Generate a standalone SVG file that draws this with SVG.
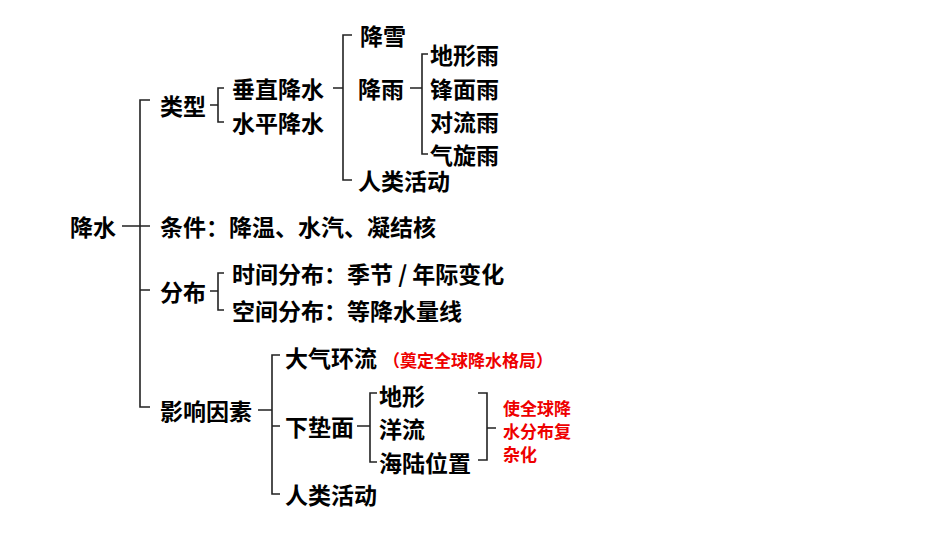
<svg xmlns="http://www.w3.org/2000/svg" width="950" height="535" viewBox="0 0 950 535">
<style>
text{font-family:"Noto Sans CJK SC","Noto Sans",sans-serif;font-weight:bold;font-size:23px;fill:#000;dominant-baseline:central}
.r{fill:#e00;font-size:17px}
.c path{fill:none;stroke:#222;stroke-width:1.6}
</style>
<rect width="950" height="535" fill="#fff"/>
<g class="c" id="connectors">
<path d="M122 226H140M150 100H140V407H150M140 226H150M140 290H150"/>
<path d="M210 105H218M224 88H218V122H224"/>
<path d="M333 88H343M352 35H343V180H352"/>
<path d="M410 88H422M428 54H422V154H428"/>
<path d="M210 291H218M224 273H218V310H224"/>
<path d="M258 410H272M280 355H272V494H280M272 426H280"/>
<path d="M357 426H370M377 393H370V462H377"/>
<path d="M478 393H487V460H478M487 428H496"/>
</g>
<g id="n-root"><text x="70" y="226">降水</text></g>
<g id="n-type"><text x="160" y="105">类型</text></g>
<g id="n-vert"><text x="232" y="88">垂直降水</text></g>
<g id="n-horz"><text x="232" y="122">水平降水</text></g>
<g id="n-snow"><text x="360" y="35">降雪</text></g>
<g id="n-rain"><text x="358" y="88">降雨</text></g>
<g id="n-human1"><text x="358" y="180">人类活动</text></g>
<g id="n-r1"><text x="430" y="54">地形雨</text></g>
<g id="n-r2"><text x="430" y="88">锋面雨</text></g>
<g id="n-r3"><text x="430" y="121">对流雨</text></g>
<g id="n-r4"><text x="430" y="154">气旋雨</text></g>
<g id="n-cond"><text x="160" y="226">条件：降温、水汽、凝结核</text></g>
<g id="n-dist"><text x="160" y="291">分布</text></g>
<g id="n-time"><text x="232" y="273">时间分布：季节 / 年际变化</text></g>
<g id="n-space"><text x="232" y="310">空间分布：等降水量线</text></g>
<g id="n-factor"><text x="160" y="410">影响因素</text></g>
<g id="n-atm"><text x="285" y="357">大气环流</text><text class="r" x="383" y="359">（奠定全球降水格局）</text></g>
<g id="n-surf"><text x="285" y="426">下垫面</text></g>
<g id="n-terrain"><text x="379" y="395">地形</text></g>
<g id="n-ocean"><text x="379" y="428">洋流</text></g>
<g id="n-land"><text x="379" y="462">海陆位置</text></g>
<g id="n-human2"><text x="285" y="494">人类活动</text></g>
<g id="n-note"><text class="r" x="503" y="407">使全球降</text><text class="r" x="503" y="430">水分布复</text><text class="r" x="503" y="453">杂化</text></g>
</svg>
